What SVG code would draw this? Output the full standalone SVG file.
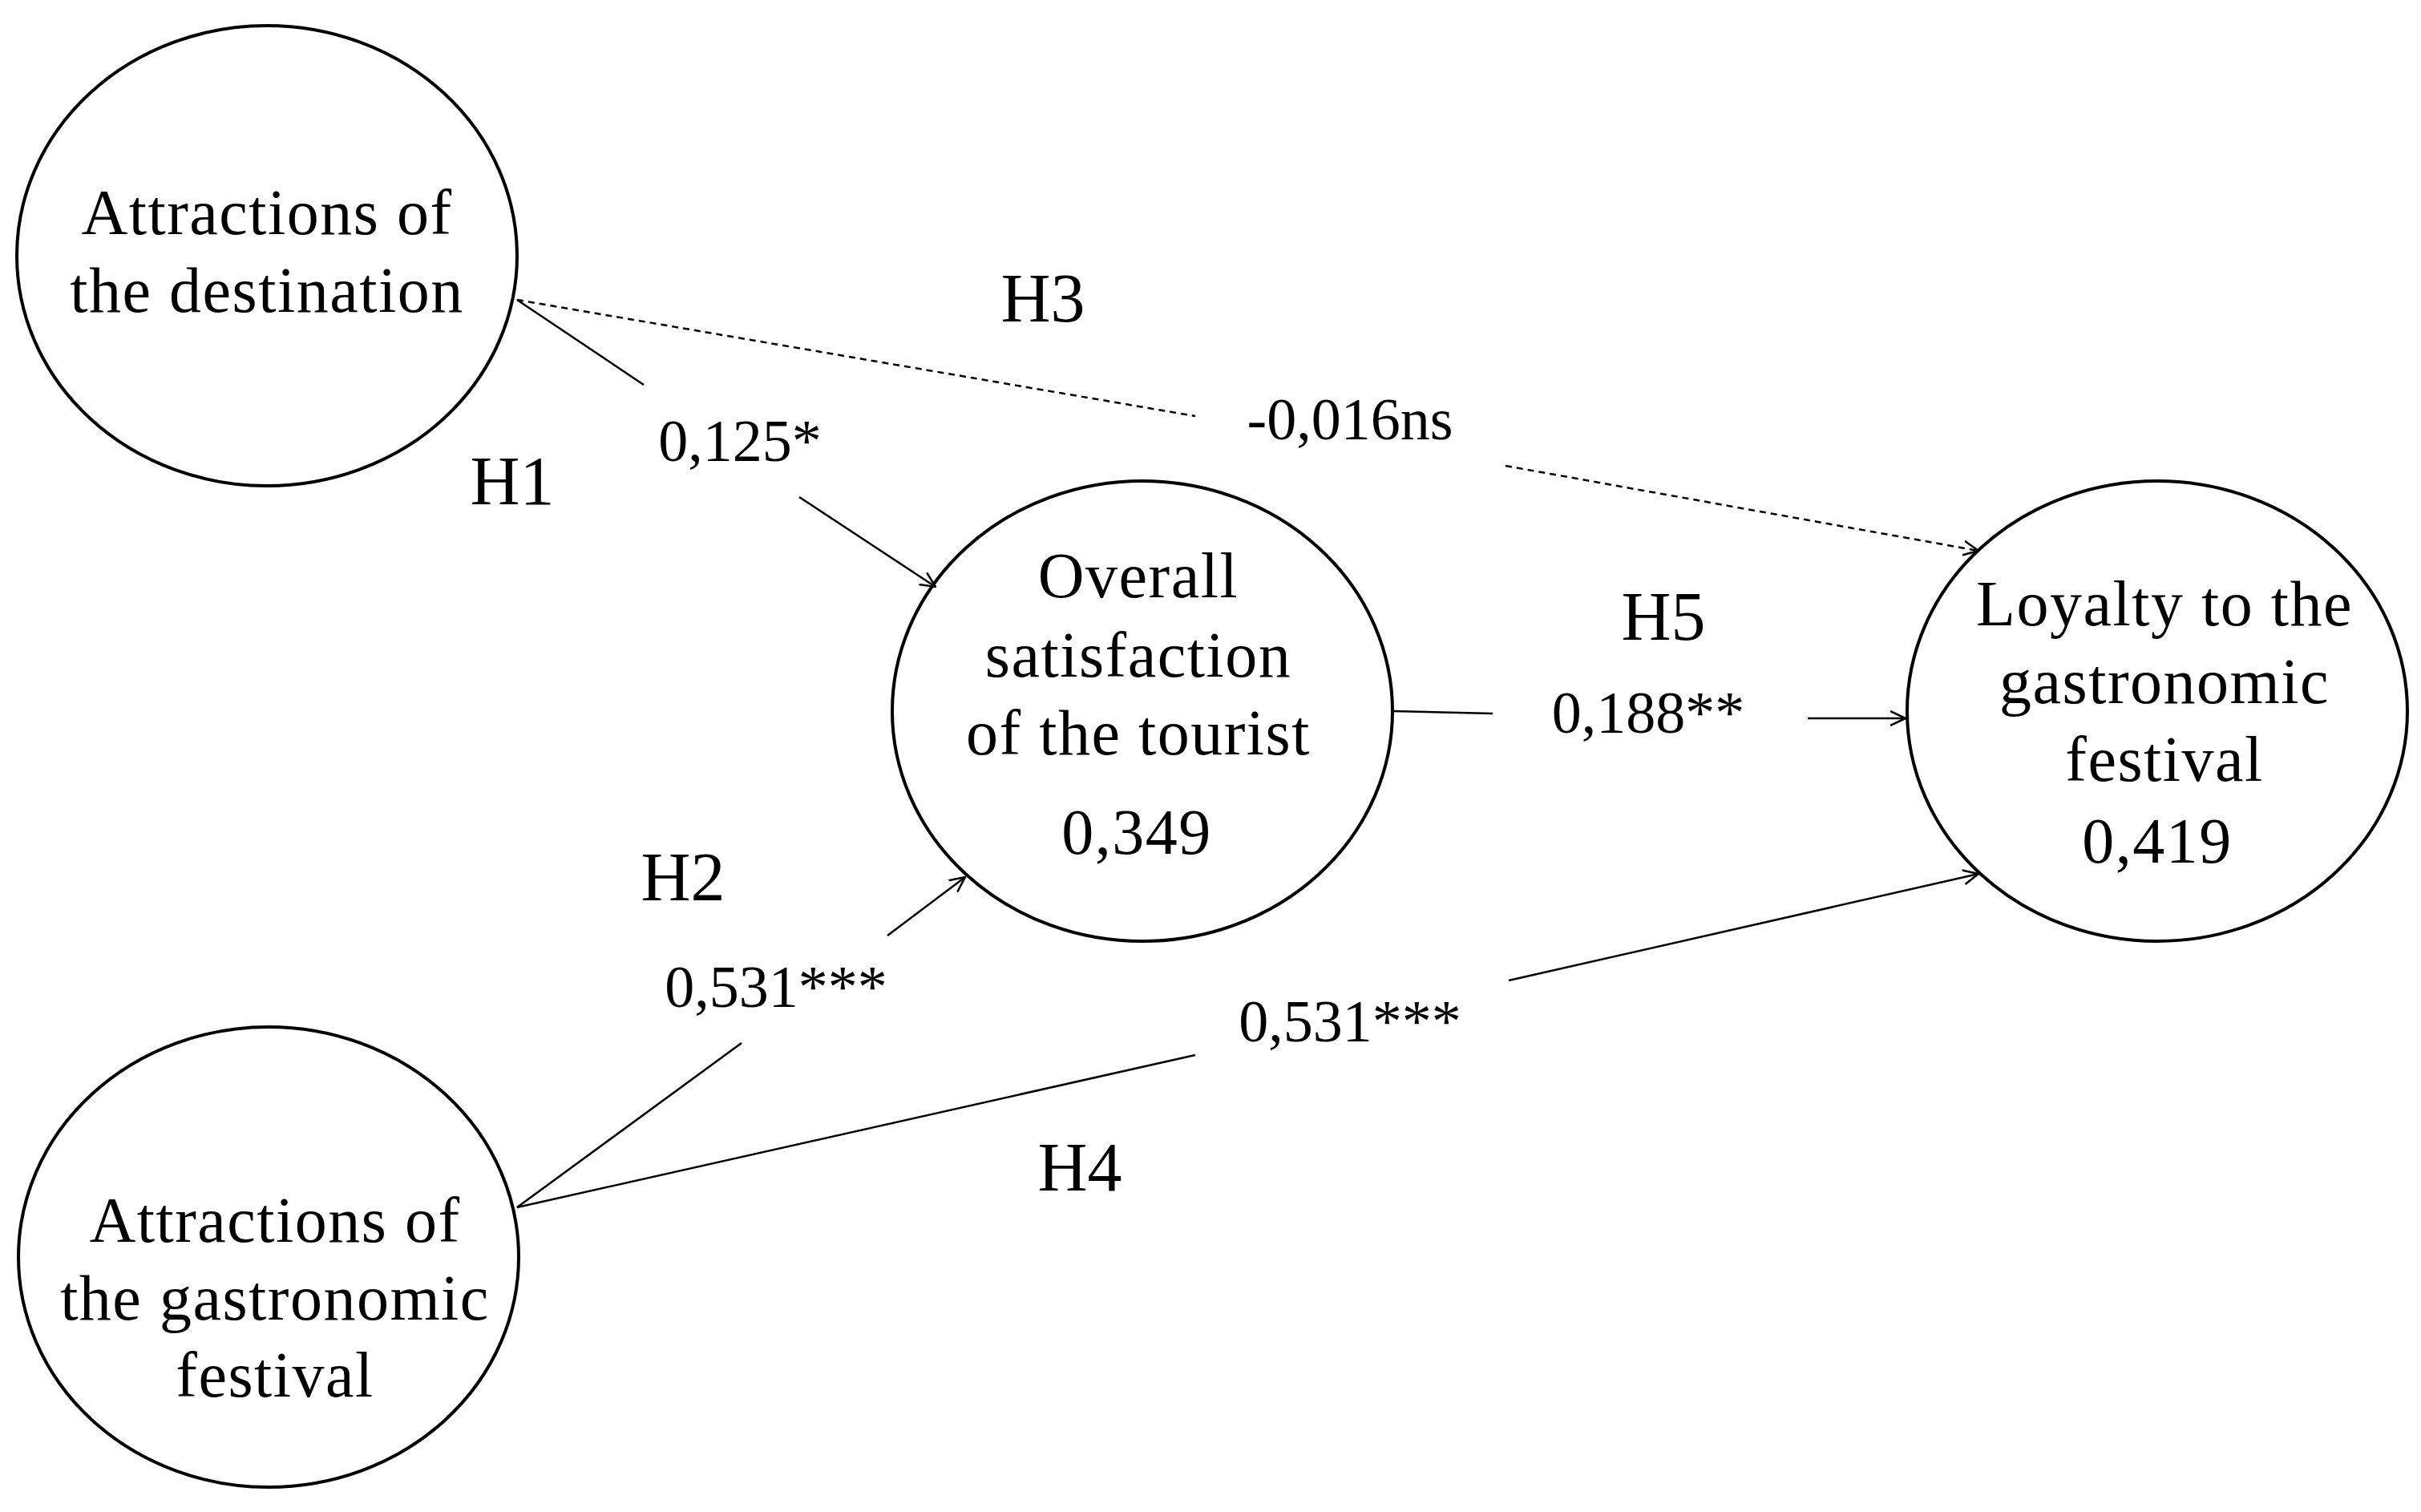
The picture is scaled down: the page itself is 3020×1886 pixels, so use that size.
<svg xmlns="http://www.w3.org/2000/svg" width="3020" height="1886" viewBox="0 0 3020 1886">
<style>
text{font-family:"Liberation Serif","DejaVu Serif",serif;text-anchor:middle;dominant-baseline:central;fill:#000}
.n{font-size:80px;letter-spacing:1.5px}
.l{font-size:74px}
.h{font-size:86px}
ellipse{fill:#fff;stroke:#000;stroke-width:4}
.c line{stroke:#000;stroke-width:2.5}
.d{stroke-dasharray:8 6}
</style>
<defs>
<marker id="a" viewBox="0 0 20 20" refX="19" refY="10" markerWidth="20" markerHeight="20" markerUnits="userSpaceOnUse" orient="auto">
<path d="M0,1 L19,10 L0,19" fill="none" stroke="#000" stroke-width="2.5"/>
</marker>
</defs>
<g id="n1"><ellipse cx="333" cy="319" rx="312" ry="287"/><text class="n" x="333" y="265">Attractions of</text><text class="n" x="333" y="362">the destination</text></g>
<g id="n2"><ellipse cx="335" cy="1568" rx="312" ry="287"/><text class="n" x="343" y="1522">Attractions of</text><text class="n" x="343" y="1619">the gastronomic</text><text class="n" x="343" y="1715">festival</text></g>
<g id="n3"><ellipse cx="1425" cy="887" rx="312" ry="287"/><text class="n" x="1420" y="718">Overall</text><text class="n" x="1420" y="817">satisfaction</text><text class="n" x="1420" y="914">of the tourist</text><text class="n" x="1418" y="1038">0,349</text></g>
<g id="n4"><ellipse cx="2691" cy="887" rx="312" ry="287"/><text class="n" x="2700" y="753">Loyalty to the</text><text class="n" x="2700" y="850">gastronomic</text><text class="n" x="2700" y="947">festival</text><text class="n" x="2691" y="1049">0,419</text></g>
<g class="c" id="connectors">
<line x1="645" y1="374" x2="803" y2="480"/><line x1="997" y1="620" x2="1167" y2="732" marker-end="url(#a)"/>
<line class="d" x1="645" y1="374" x2="1491" y2="519"/><line class="d" x1="1878" y1="581" x2="2468" y2="687" marker-end="url(#a)"/>
<line x1="1737" y1="887" x2="1862" y2="890"/><line x1="2255" y1="896" x2="2377" y2="896" marker-end="url(#a)"/>
<line x1="645" y1="1506" x2="925" y2="1301"/><line x1="1107" y1="1167" x2="1204" y2="1094" marker-end="url(#a)"/>
<line x1="645" y1="1506" x2="1491" y2="1316"/><line x1="1882" y1="1223" x2="2468" y2="1090" marker-end="url(#a)"/>
</g>
<g id="labels">
<text class="h" x="1301" y="372">H3</text>
<text class="l" x="1684" y="523">-0,016ns</text>
<text class="h" x="639" y="600">H1</text>
<text class="l" x="923" y="550">0,125*</text>
<text class="h" x="2075" y="769">H5</text>
<text class="l" x="2056" y="889">0,188**</text>
<text class="h" x="852" y="1094">H2</text>
<text class="l" x="968" y="1231">0,531***</text>
<text class="l" x="1684" y="1274">0,531***</text>
<text class="h" x="1347" y="1456">H4</text>
</g>
</svg>
